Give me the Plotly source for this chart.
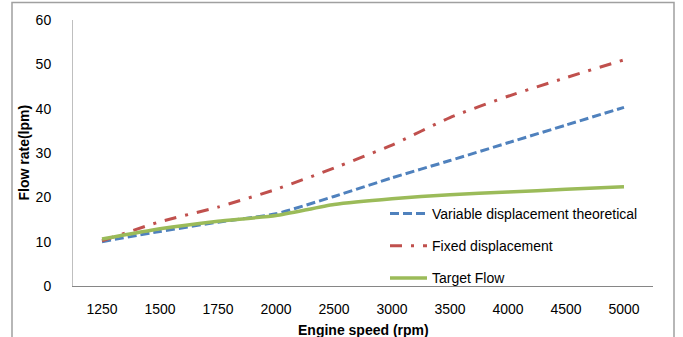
import plotly.graph_objects as go

engine_speed = ["1250", "1500", "1750", "2000", "2500", "3000", "3500", "4000", "4500", "5000"]
variable_disp = [10.0, 12.3, 14.4, 16.3, 20.2, 24.4, 28.3, 32.3, 36.3, 40.3]
fixed_disp = [10.2, 14.5, 17.8, 21.8, 26.6, 31.8, 38.0, 42.8, 47.0, 51.0]
target_flow = [10.6, 12.9, 14.6, 15.9, 18.4, 19.7, 20.6, 21.2, 21.8, 22.4]
y_ticks = [0, 10, 20, 30, 40, 50, 60]

FONT = "Liberation Sans, Arial, sans-serif"

fig = go.Figure()
fig.add_trace(go.Scatter(
    x=engine_speed, y=variable_disp, mode="lines",
    name="Variable displacement theoretical", legendgroup="a",
    line=dict(color="#4F81BD", width=3, dash="9px,4px", shape="spline", smoothing=0.5),
))
fig.add_trace(go.Scatter(
    x=engine_speed, y=fixed_disp, mode="lines",
    name="Fixed displacement", legendgroup="b",
    line=dict(color="#C0504D", width=3, dash="12px,9px,3px,9px", shape="spline", smoothing=0.5),
))
fig.add_trace(go.Scatter(
    x=engine_speed, y=target_flow, mode="lines",
    name="Target Flow", legendgroup="c",
    line=dict(color="#9BBB59", width=3.5, shape="spline", smoothing=0.5),
))

L, R, T, B = 73, 30, 20, 51
W, H = 683, 337
pw = W - L - R
ph = H - T - B

def px_x(px):
    return (px - L) / pw

def px_y(py):
    return (H - B - py) / ph

fig.update_layout(
    width=W, height=H,
    margin=dict(l=L, r=R, t=T, b=B, pad=0, autoexpand=False),
    paper_bgcolor="white", plot_bgcolor="white",
    font=dict(family=FONT, size=14, color="#000000"),
    showlegend=True,
    legend=dict(
        x=px_x(385), y=px_y(198), xanchor="left", yanchor="top",
        bgcolor="rgba(0,0,0,0)", borderwidth=0,
        traceorder="grouped", tracegroupgap=11,
        font=dict(family=FONT, size=14, color="#000000"),
        itemwidth=37,
    ),
    xaxis=dict(
        type="category", range=[-0.5, 9.5], automargin=False,
        showline=True, linecolor="#868686", linewidth=1,
        showgrid=False, zeroline=False, ticks="",
        tickfont=dict(family=FONT, size=14, color="#000000"),
        ticklabelstandoff=10,
    ),
    yaxis=dict(
        range=[0, 60], tickvals=y_ticks, automargin=False,
        showline=True, linecolor="#BFBFBF", linewidth=1,
        showgrid=False, zeroline=False, ticks="",
        tickfont=dict(family=FONT, size=14, color="#000000"),
        ticklabelstandoff=18,
    ),
    annotations=[
        dict(text="<b>Engine speed (rpm)</b>", xref="paper", yref="paper",
             x=px_x(363), y=px_y(330), xanchor="center", yanchor="middle",
             showarrow=False, font=dict(family=FONT, size=14, color="#000000")),
        dict(text="<b>Flow rate(lpm)</b>", xref="paper", yref="paper",
             x=px_x(23), y=px_y(152.5), xanchor="center", yanchor="middle",
             textangle=-90, showarrow=False,
             font=dict(family=FONT, size=14, color="#000000")),
    ],
    shapes=[dict(
        type="rect", xref="paper", yref="paper",
        x0=px_x(12), x1=px_x(674), y0=px_y(345), y1=px_y(2.5),
        line=dict(color="#A0A0A0", width=1.5), fillcolor="rgba(0,0,0,0)", layer="below",
    )],
)

fig.write_html("out.html")
